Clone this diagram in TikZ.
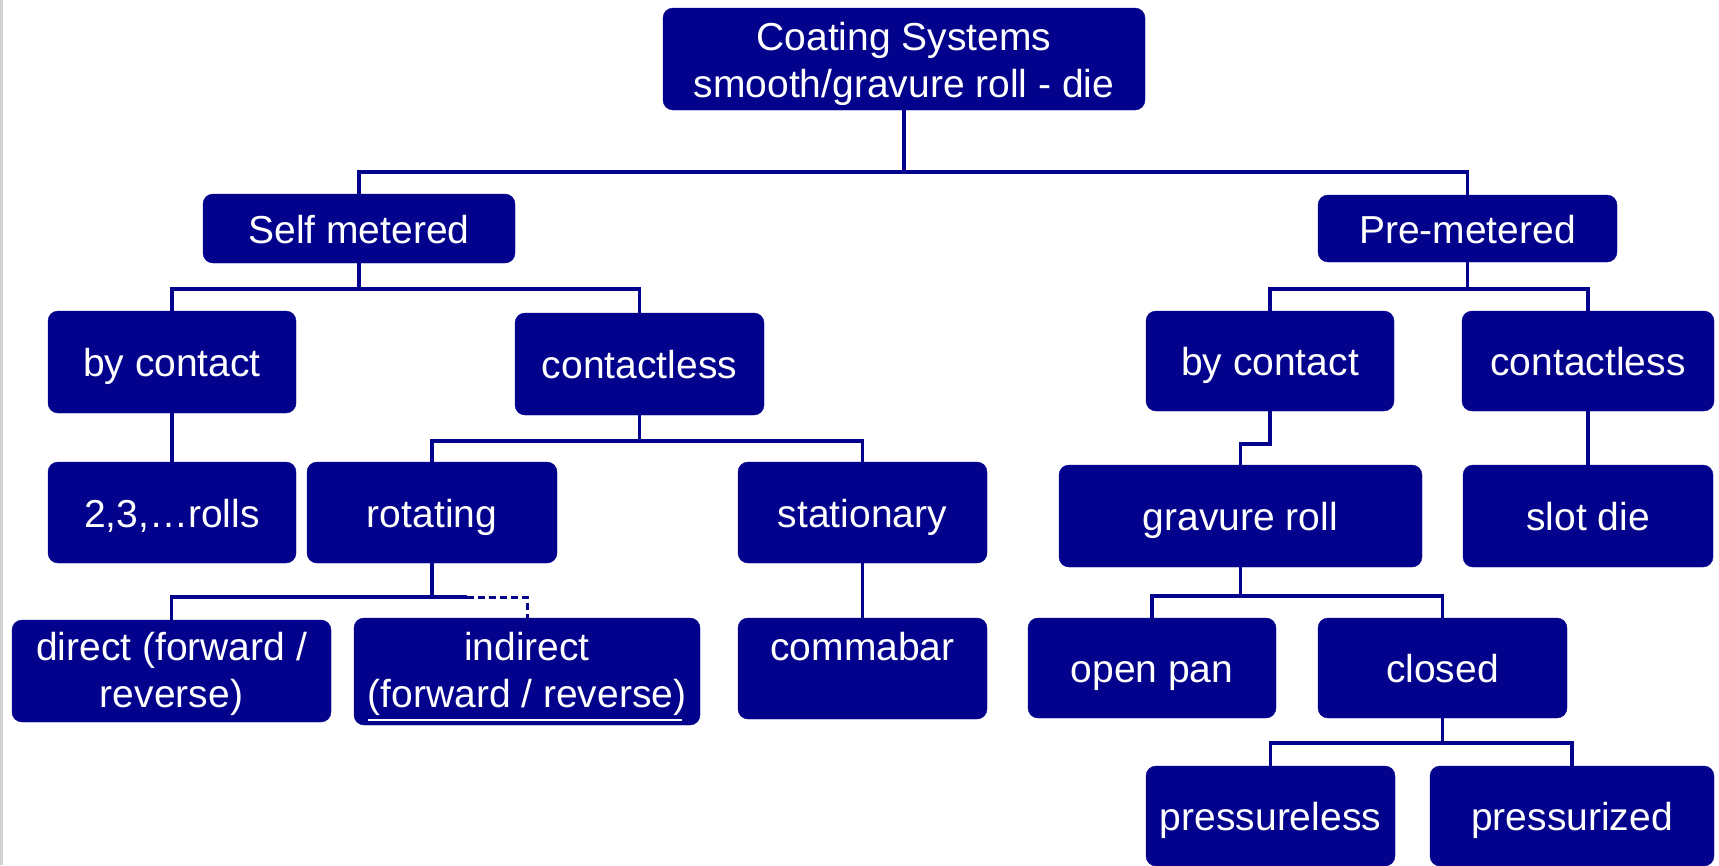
\documentclass[tikz,border=0pt]{standalone}
\usepackage{fontspec}
\setmainfont{Liberation Sans}
\definecolor{nv}{RGB}{2,2,140}
\newcommand\twol[3][0pt]{\raisebox{#1}[\height][\depth]{\begin{tabular}{@{}c@{}}#2\\#3\end{tabular}}}
\begin{document}
\begin{tikzpicture}[x=1pt,y=-1pt,
  box/.style={fill=nv,draw=nv,rounded corners=10pt,inner sep=0pt,text=white,
    font=\fontsize{39}{47}\selectfont},
  sl/.style={text height=32.5pt,text depth=3.5pt},
  conn/.style={draw=nv,line width=3.8pt}]
\useasboundingbox (0,0) rectangle (1719,865);
\fill[gray!35] (0,0) rectangle (2.5,865);
% boxes
\node[box,minimum width=482pt,minimum height=102pt] (top) at (904,59) {\twol[-6pt]{Coating Systems}{smooth/gravure roll - die}};
\node[box,sl,minimum width=312pt,minimum height=69pt] (self) at (359,228.5) {Self metered};
\node[box,sl,minimum width=299pt,minimum height=67pt] (pre) at (1467.5,228.5) {Pre-metered};
\node[box,sl,minimum width=248pt,minimum height=102pt] (bycL) at (172,362) {by contact};
\node[box,sl,minimum width=249pt,minimum height=102pt] (conL) at (639.5,364) {contactless};
\node[box,sl,minimum width=248pt,minimum height=101pt] (rolls) at (172,512.5) {2,3,\dots rolls};
\node[box,sl,minimum width=250pt,minimum height=101pt] (rot) at (432,512.5) {rotating};
\node[box,sl,minimum width=249pt,minimum height=101pt] (stat) at (862.5,512.5) {stationary};
\node[box,minimum width=319pt,minimum height=102pt] (direct) at (171.5,671) {\twol[-3.5pt]{direct (forward /}{reverse)}};
\node[box,minimum width=346pt,minimum height=107pt] (indirect) at (527,671.5) {\twol[-3.5pt]{indirect}{(forward / reverse)}};
\node[box,sl,minimum width=249pt,minimum height=101pt] (comma) at (862.5,668.5) {\raisebox{23pt}[\height][\depth]{commabar}};
\node[box,sl,minimum width=248pt,minimum height=100pt] (bycR) at (1270,361) {by contact};
\node[box,sl,minimum width=252pt,minimum height=100pt] (conR) at (1588,361) {contactless};
\node[box,sl,minimum width=363pt,minimum height=102pt] (grav) at (1240.5,516) {gravure roll};
\node[box,sl,minimum width=250pt,minimum height=102pt] (slot) at (1588,516) {slot die};
\node[box,sl,minimum width=248pt,minimum height=100pt] (open) at (1152,668) {open pan};
\node[box,sl,minimum width=249pt,minimum height=100pt] (closed) at (1442.5,668) {closed};
\node[box,sl,minimum width=249pt,minimum height=100pt] (pless) at (1270.5,816) {pressureless};
\node[box,sl,minimum width=284pt,minimum height=100pt] (pized) at (1572,816) {pressurized};
% white underline inside indirect
\draw[white,line width=1.5pt] ([xshift=-159pt]indirect.center |- 0,720) -- ([xshift=155pt]indirect.center |- 0,720);
% junctions
\coordinate (j0) at (top.south |- 0,172);
\coordinate (j1) at (self.south |- 0,289);
\coordinate (j2) at (conL.south |- 0,441);
\coordinate (j3) at (rot.south |- 0,597);
\coordinate (j3b) at (467,597);
\coordinate (j4) at (pre.south |- 0,289);
\coordinate (jg) at (bycR.south |- 0,444);
\coordinate (j5) at (grav.south |- 0,596);
\coordinate (j6) at (closed.south |- 0,743);
% connectors
\draw[conn] (top.south) -- (j0) -| (self.north);
\draw[conn] (j0) -| (pre.north);
\draw[conn] (self.south) -- (j1) -| (bycL.north);
\draw[conn] (j1) -| (conL.north);
\draw[conn] (bycL.south) -- (rolls.north);
\draw[conn] (conL.south) -- (j2) -| (rot.north);
\draw[conn] (j2) -| (stat.north);
\draw[conn] (rot.south) -- (j3) -| (direct.north);
\draw[conn] (j3) -- (j3b);
\draw[conn,line width=3pt,dash pattern=on 7pt off 4pt] (j3b) -| (indirect.north);
\draw[conn] (stat.south) -- (comma.north);
\draw[conn] (pre.south) -- (j4) -| (bycR.north);
\draw[conn] (j4) -| (conR.north);
\draw[conn] (bycR.south) -- (jg) -| (grav.north);
\draw[conn] (conR.south) -- (slot.north);
\draw[conn] (grav.south) -- (j5) -| (open.north);
\draw[conn] (j5) -| (closed.north);
\draw[conn] (closed.south) -- (j6) -| (pless.north);
\draw[conn] (j6) -| (pized.north);
\end{tikzpicture}
\end{document}
